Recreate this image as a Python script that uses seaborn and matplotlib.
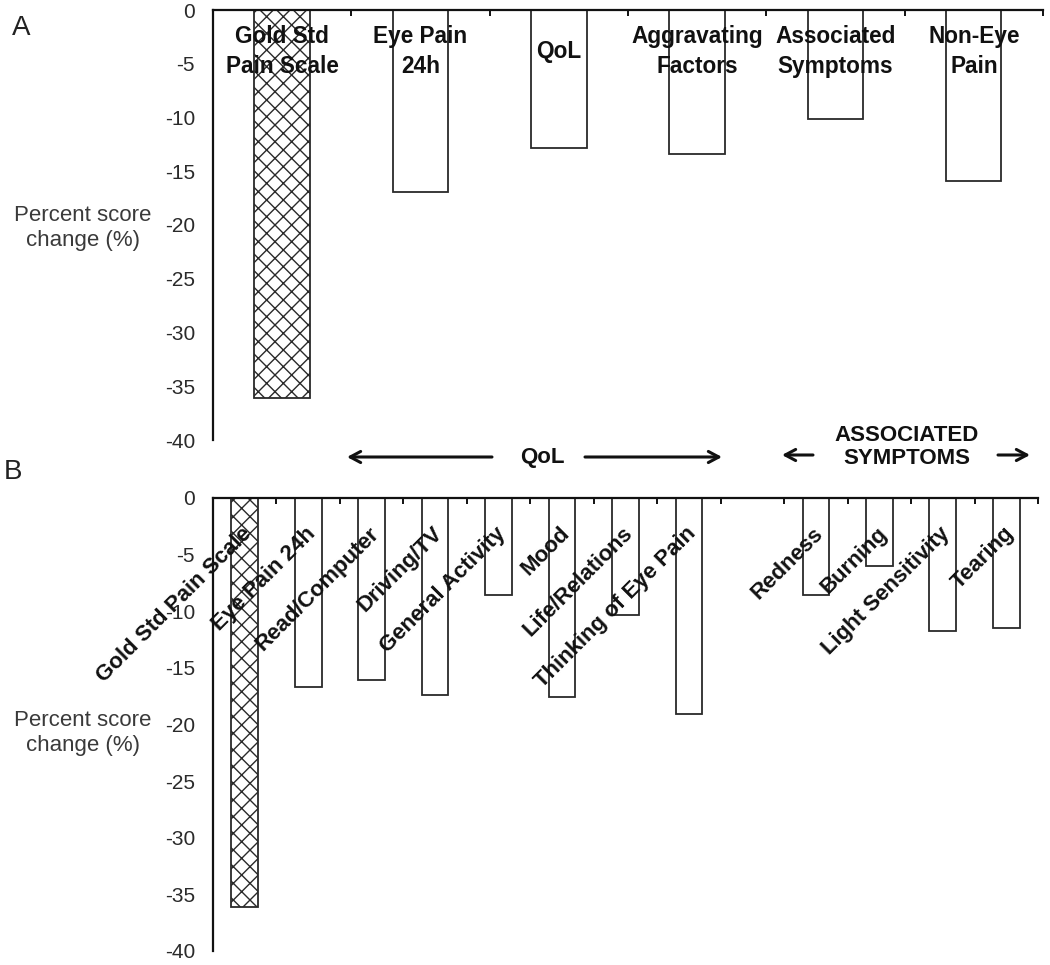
import numpy as np
import pandas as pd
import matplotlib
matplotlib.use("Agg")
import matplotlib.pyplot as plt
import seaborn as sns

sns.set_style("white")
plt.rcParams["font.family"] = ["Liberation Sans", "DejaVu Sans"]
plt.rcParams["hatch.linewidth"] = 1.0

# ---- data ----
top_labels = ["Gold Std\nPain Scale", "Eye Pain\n24h", "QoL", "Aggravating\nFactors",
              "Associated\nSymptoms", "Non-Eye\nPain"]
top_values = [-36.1, -16.9, -12.8, -13.4, -10.1, -15.9]

bottom_order = ["Gold Std Pain Scale", "Eye Pain 24h", "Read/Computer", "Driving/TV",
                "General Activity", "Mood", "Life/Relations", "Thinking of Eye Pain", " ",
                "Redness", "Burning", "Light Sensitivity", "Tearing"]
bottom_labels = ["Gold Std Pain Scale", "Eye Pain 24h", "Read/Computer", "Driving/TV",
                 "General Activity", "Mood", "Life/Relations", "Thinking of Eye Pain",
                 "Redness", "Burning", "Light Sensitivity", "Tearing"]
bottom_values = [-36.1, -16.7, -16.1, -17.4, -8.6, -17.6, -10.3, -19.1,
                 -8.6, -6.0, -11.7, -11.5]

yticks = [0, -5, -10, -15, -20, -25, -30, -35, -40]
ylabel = "Percent score\nchange (%)"

W, H = 1050, 965
fig = plt.figure(figsize=(W / 100, H / 100), dpi=100)

def px_ax(l, t, r, b):
    return fig.add_axes([l / W, 1 - b / H, (r - l) / W, (b - t) / H])

ax1 = px_ax(213, 10, 1043, 440)
ax2 = px_ax(213, 498, 1038, 951)

edge = "#2a2a2a"
tick_col = "#2a2a2a"

def style(ax, ncat):
    sns.despine(ax=ax, top=False, bottom=True, right=True, left=False)
    for s in ("top", "left"):
        ax.spines[s].set_linewidth(1.6)
        ax.spines[s].set_color("#111111")
    ax.set_ylim(-40, 0)
    ax.set_xlim(-0.5, ncat - 0.5)
    ax.set_yticks(yticks)
    ax.set_yticklabels([str(v) for v in yticks], fontsize=15, color=tick_col)
    ax.tick_params(axis="y", direction="out", length=5, width=1.4, pad=8, color="#111111")
    ax.xaxis.set_ticks_position("top")
    ax.set_xticks(np.arange(-0.5, ncat, 1.0))
    ax.set_xticklabels([])
    ax.tick_params(axis="x", direction="in", length=4, width=1.4, color="#111111")
    ax.set_xlabel("")
    ax.set_ylabel("")

# ---- top panel ----
df1 = pd.DataFrame({"cat": top_labels, "val": top_values})
sns.barplot(data=df1, x="cat", y="val", order=top_labels, color="white",
            edgecolor=edge, linewidth=1.3, width=0.4, saturation=1, ax=ax1,
            errorbar=None)
ax1.patches[0].set_hatch("xx")
style(ax1, len(top_labels))
for i, lab in enumerate(top_labels):
    ax1.text(i, -3.85, lab, ha="center", va="center", fontsize=16.3,
             fontweight="bold", color="#111111", linespacing=1.35)

# ---- bottom panel ----
df2 = pd.DataFrame({"cat": bottom_labels, "val": bottom_values})
sns.barplot(data=df2, x="cat", y="val", order=bottom_order, color="white",
            edgecolor=edge, linewidth=1.3, width=0.42, saturation=1, ax=ax2,
            errorbar=None)
ax2.patches[0].set_hatch("xx")
style(ax2, len(bottom_order))
for i, lab in enumerate(bottom_order):
    if lab.strip():
        ax2.text(i - 0.05, -2.2, lab, ha="right", va="top", rotation=45,
                 rotation_mode="anchor", fontsize=16, fontweight="bold",
                 color="#111111")

# group annotations (data coords of bottom axes, above the axis)
arrow_kw = dict(arrowstyle="->,head_length=0.75,head_width=0.4", lw=2.2,
                color="#111111", shrinkA=0, shrinkB=0)
def xd(px):
    return (px - 213) / (825 / 13) - 0.5
def yd(py):
    return -(py - 498) / (453 / 40)

ax2.text(xd(542), yd(458), "QoL", ha="center", va="center", fontsize=16,
         fontweight="bold", color="#111111", clip_on=False)
ax2.annotate("", xy=(xd(347), yd(457)), xytext=(xd(492), yd(457)),
             arrowprops=arrow_kw, annotation_clip=False)
ax2.annotate("", xy=(xd(722), yd(457)), xytext=(xd(585), yd(457)),
             arrowprops=arrow_kw, annotation_clip=False)
ax2.text(xd(907), yd(447), "ASSOCIATED\nSYMPTOMS", ha="center", va="center",
         fontsize=16, fontweight="bold", color="#111111", linespacing=1.15,
         clip_on=False)
ax2.annotate("", xy=(xd(782), yd(455)), xytext=(xd(813), yd(455)),
             arrowprops=arrow_kw, annotation_clip=False)
ax2.annotate("", xy=(xd(1030), yd(455)), xytext=(xd(998), yd(455)),
             arrowprops=arrow_kw, annotation_clip=False)

# y labels and panel letters
fig.text(83 / W, 1 - 228 / H, ylabel, ha="center", va="center", fontsize=16,
         color="#3a3a3a", linespacing=1.2)
fig.text(83 / W, 1 - 733 / H, ylabel, ha="center", va="center", fontsize=16,
         color="#3a3a3a", linespacing=1.2)
fig.text(12 / W, 1 - 28 / H, "A", ha="left", va="center", fontsize=20, color="#222222")
fig.text(4 / W, 1 - 472 / H, "B", ha="left", va="center", fontsize=20, color="#222222")

fig.savefig("out.png", dpi=100, facecolor="white")
